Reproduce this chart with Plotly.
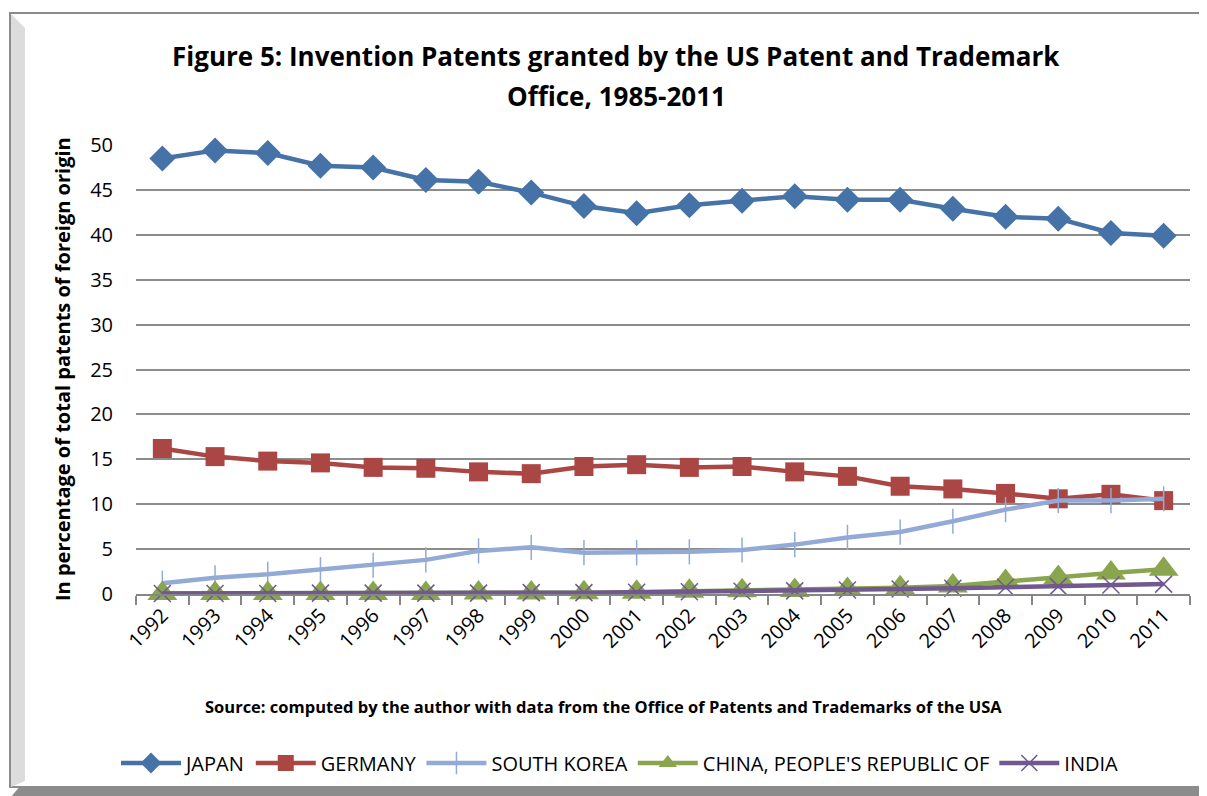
import plotly.graph_objects as go

# data (percent of foreign-origin patents)
years = [str(y) for y in range(1992, 2012)]
japan = [48.5, 49.4, 49.1, 47.7, 47.5, 46.1, 45.9, 44.7, 43.2, 42.4,
         43.3, 43.8, 44.3, 43.9, 43.9, 42.9, 42.0, 41.8, 40.2, 39.9]
germany = [16.2, 15.3, 14.8, 14.6, 14.1, 14.0, 13.6, 13.4, 14.2, 14.4,
           14.1, 14.2, 13.6, 13.1, 12.0, 11.7, 11.2, 10.6, 11.1, 10.4]
south_korea = [1.2, 1.8, 2.2, 2.7, 3.2, 3.8, 4.8, 5.2, 4.6, 4.6,
               4.7, 4.9, 5.5, 6.3, 6.9, 8.1, 9.4, 10.4, 10.4, 10.6]
china = [0.05, 0.05, 0.05, 0.05, 0.05, 0.05, 0.1, 0.1, 0.15, 0.2,
         0.3, 0.35, 0.4, 0.5, 0.7, 0.9, 1.4, 1.85, 2.35, 2.75]
india = [0.05, 0.05, 0.05, 0.1, 0.1, 0.1, 0.1, 0.15, 0.15, 0.2,
         0.25, 0.3, 0.35, 0.45, 0.55, 0.65, 0.75, 0.85, 1.0, 1.1]
y_ticks = list(range(0, 51, 5))

FONT = "Open Sans"
W, H = 1207, 796
D = 8  # page body margin offsets the figure on screen
L, R, T, B = 136, 1190, 145, 594  # plot area in screen pixels


def px(x):
    return (x - L) / (R - L)


def py(y):
    return (B - y) / (B - T)


series = [
    ("JAPAN", japan, "#4572A7", dict(symbol="diamond", size=20)),
    ("GERMANY", germany, "#AA4643", dict(symbol="square", size=19)),
    ("SOUTH KOREA", south_korea, "#93AAD6",
     dict(symbol="line-ns", size=18, line=dict(width=1.5, color="#93AAD6"))),
    ("CHINA, PEOPLE'S REPUBLIC OF", china, "#89A54E", dict(symbol="triangle-up", size=26)),
    ("INDIA", india, "#71588F",
     dict(symbol="x-thin", size=17, line=dict(width=1.5, color="#71588F"))),
]

fig = go.Figure()
for name, vals, col, mk in series:
    mk = dict(mk)
    mk["color"] = col
    fig.add_trace(go.Scatter(
        x=years, y=vals, name=name, mode="lines+markers",
        line=dict(color=col, width=4.5), marker=mk, cliponaxis=False,
    ))

# chart frame: border, left bevel, bottom shadow
shapes = [
    dict(type="rect", xref="paper", yref="paper",
         x0=px(10), x1=px(1204), y0=py(787), y1=py(13),
         line=dict(color="#8c8c8c", width=2), fillcolor="rgba(0,0,0,0)", layer="below"),
    dict(type="path", xref="paper", yref="paper",
         path=f"M {px(11)} {py(14)} L {px(25)} {py(28)} L {px(25)} {py(781)} L {px(11)} {py(787)} Z",
         fillcolor="#dcdcdc", line=dict(width=0), layer="below"),
    dict(type="path", xref="paper", yref="paper",
         path=f"M {px(11)} {py(797)} L {px(20)} {py(786)} L {px(1207)} {py(786)} L {px(1207)} {py(797)} Z",
         fillcolor="#8c8c8c", line=dict(width=0), layer="below"),
]

title_lines = ["Figure 5: Invention Patents granted by the US Patent and Trademark",
               "Office, 1985-2011"]
annotations = [
    dict(text=f"<b>{title_lines[0]}</b>", xref="paper", yref="paper", x=px(616), y=py(56),
         xanchor="center", yanchor="middle", showarrow=False, font=dict(size=26)),
    dict(text=f"<b>{title_lines[1]}</b>", xref="paper", yref="paper", x=px(616), y=py(96),
         xanchor="center", yanchor="middle", showarrow=False, font=dict(size=26)),
    dict(text="<b>In percentage of total patents of foreign origin</b>", xref="paper", yref="paper",
         x=px(62), y=py(369), xanchor="center", yanchor="middle", textangle=-90,
         showarrow=False, font=dict(size=20)),
    dict(text="<b>Source: computed by the author with data from the Office of Patents and Trademarks of the USA</b>",
         xref="paper", yref="paper", x=px(603), y=py(706), xanchor="center", yanchor="middle",
         showarrow=False, font=dict(size=16.5)),
]

fig.update_layout(
    width=W, height=H,
    margin=dict(l=L - D, r=W - (R - D), t=T - D, b=H - (B - D), autoexpand=False),
    paper_bgcolor="white", plot_bgcolor="white",
    font=dict(family=FONT, color="black"),
    showlegend=True,
    legend=dict(
        orientation="h", x=px(620), xanchor="center", y=py(763), yanchor="middle",
        font=dict(size=20, family=FONT), itemwidth=60, tracegroupgap=0,
        bgcolor="rgba(0,0,0,0)",
    ),
    shapes=shapes,
    annotations=annotations,
)

fig.update_xaxes(
    type="category", range=[-0.5, len(years) - 0.5],
    tickson="boundaries", ticks="outside", ticklen=9,
    tickcolor="#868686", tickwidth=1.5, automargin=False,
    showline=True, linecolor="#868686", linewidth=1.5,
    showgrid=False, tickangle=-45, tickfont=dict(size=20, family=FONT),
)
fig.update_yaxes(
    range=[0, 50], tickvals=y_ticks, showgrid=True, gridcolor="#8c8c8c", gridwidth=1.5,
    zeroline=False, showline=False, ticks="", tickfont=dict(size=20, family=FONT),
    ticklabelstandoff=22, automargin=False,
)

fig.write_html("out.html")
